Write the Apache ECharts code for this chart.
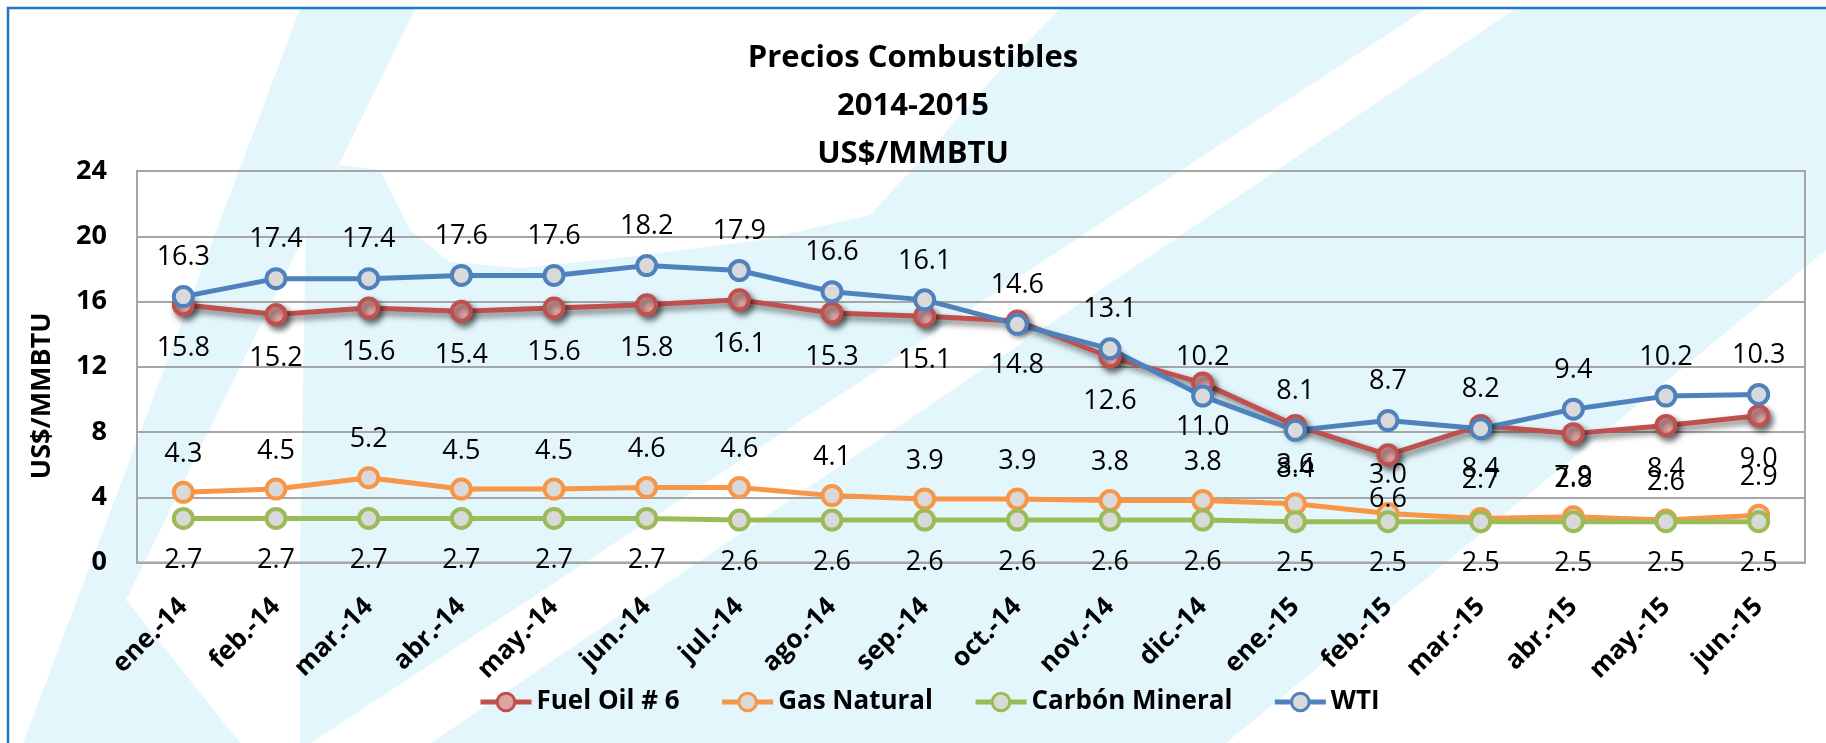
<!DOCTYPE html>
<html>
<head>
<meta charset="utf-8">
<script src="https://cdn.jsdelivr.net/npm/echarts@6/dist/echarts.min.js"></script>
<style>
html,body{margin:0;padding:0;background:#fff;}
#chart{width:1826px;height:743px;}
</style>
</head>
<body>
<div id="chart"></div>
<script>
const categories = ['ene.-14','feb.-14','mar.-14','abr.-14','may.-14','jun.-14','jul.-14','ago.-14','sep.-14','oct.-14','nov.-14','dic.-14','ene.-15','feb.-15','mar.-15','abr.-15','may.-15','jun.-15'];
const fuelOil = [15.8,15.2,15.6,15.4,15.6,15.8,16.1,15.3,15.1,14.8,12.6,11.0,8.4,6.6,8.4,7.9,8.4,9.0];
const gasNatural = [4.3,4.5,5.2,4.5,4.5,4.6,4.6,4.1,3.9,3.9,3.8,3.8,3.6,3.0,2.7,2.8,2.6,2.9];
const carbon = [2.7,2.7,2.7,2.7,2.7,2.7,2.6,2.6,2.6,2.6,2.6,2.6,2.5,2.5,2.5,2.5,2.5,2.5];
const wti = [16.3,17.4,17.4,17.6,17.6,18.2,17.9,16.6,16.1,14.6,13.1,10.2,8.1,8.7,8.2,9.4,10.2,10.3];
const yTicks = [0,4,8,12,16,20,24];

const FONT = 'Open Sans';
const cyan = '#e2f6fb';

function mk(name, data, color, fill, pos, dist, shadow) {
  const s = {
    name: name, type: 'line', data: data,
    symbol: 'circle', symbolSize: 19,
    lineStyle: {color: color, width: 5},
    itemStyle: {color: fill, borderColor: color, borderWidth: 4},
    label: {
      show: true, position: pos, distance: dist,
      fontFamily: FONT, fontSize: 27, color: '#000',
      formatter: p => p.value.toFixed(1)
    },
    emphasis: {disabled: true},
    animation: false
  };
  if (shadow) {
    s.lineStyle.shadowColor = 'rgba(0,0,0,0.55)';
    s.lineStyle.shadowBlur = 6;
    s.lineStyle.shadowOffsetX = 3;
    s.lineStyle.shadowOffsetY = 4;
    s.itemStyle.shadowColor = 'rgba(0,0,0,0.55)';
    s.itemStyle.shadowBlur = 6;
    s.itemStyle.shadowOffsetX = 3;
    s.itemStyle.shadowOffsetY = 4;
  }
  return s;
}

const chart = echarts.init(document.getElementById('chart'), null, {renderer: 'canvas'});
chart.setOption({
  backgroundColor: '#ffffff',
  animation: false,
  graphic: [
    {type: 'polygon', z: -100, silent: true, shape: {points: [[300,9],[415,9],[126,600],[240,743],[23,743]]}, style: {fill: cyan}},
    {type: 'polygon', z: -100, silent: true, shape: {points: [[1060,9],[1426,9],[311,743],[300,743],[300,560],[306,220],[340,165],[380,170],[410,230],[450,262],[520,268],[620,258],[760,240],[870,215],[930,150],[1000,70]]}, style: {fill: cyan}},
    {type: 'polygon', z: -100, silent: true, shape: {points: [[1515,9],[1826,9],[1826,250],[1226,743],[431,743]]}, style: {fill: cyan}},
    {type: 'rect', z: 100, silent: true, shape: {x: 8, y: 8, width: 1840, height: 760}, style: {fill: 'none', stroke: '#1f77c6', lineWidth: 2.5}}
  ],
  title: {
    text: 'Precios Combustibles\n2014-2015\nUS$/MMBTU',
    left: 'center', top: 29,
    textStyle: {fontFamily: FONT, fontSize: 31, fontWeight: 'bold', color: '#000', lineHeight: 48}
  },
  legend: {
    left: 473, top: 684,
    itemWidth: 51, itemHeight: 22, itemGap: 40,
    lineStyle: {width: 5},
    itemStyle: {borderWidth: 3},
    textStyle: {fontFamily: FONT, fontSize: 26, fontWeight: 'bold', color: '#000'},
    data: ['Fuel Oil # 6','Gas Natural','Carbón Mineral','WTI']
  },
  grid: {
    left: 137, right: 21, top: 171, bottom: 180.5,
    show: true, borderColor: '#a6a6a6', borderWidth: 2, backgroundColor: 'transparent'
  },
  xAxis: {
    type: 'category', data: categories, boundaryGap: true,
    axisLine: {lineStyle: {color: '#a6a6a6', width: 2}},
    axisTick: {show: false},
    axisLabel: {rotate: 45, margin: 40, interval: 0, fontFamily: FONT, fontSize: 26, fontWeight: 'bold', color: '#000'}
  },
  yAxis: {
    type: 'value', min: yTicks[0], max: yTicks[yTicks.length-1], interval: 4,
    name: 'US$/MMBTU', nameLocation: 'middle', nameGap: 81,
    nameTextStyle: {fontFamily: FONT, fontSize: 27, fontWeight: 'bold', color: '#000', padding: [0, 58, 0, 0]},
    axisLine: {show: true, lineStyle: {color: '#a6a6a6', width: 2}},
    axisTick: {show: false},
    splitLine: {lineStyle: {color: '#a6a6a6', width: 2}},
    axisLabel: {margin: 30, fontFamily: FONT, fontSize: 27, fontWeight: 'bold', color: '#000'}
  },
  series: [
    mk('Fuel Oil # 6', fuelOil, '#c0504d', '#e0a3a3', 'bottom', 19, true),
    mk('Gas Natural', gasNatural, '#f79646', '#d9d9d9', 'top', 13, false),
    mk('Carbón Mineral', carbon, '#9bbb59', '#d9d9d9', 'bottom', 17, false),
    mk('WTI', wti, '#4f81bd', '#d9d9d9', 'top', 14, false)
  ]
});
</script>
</body>
</html>
